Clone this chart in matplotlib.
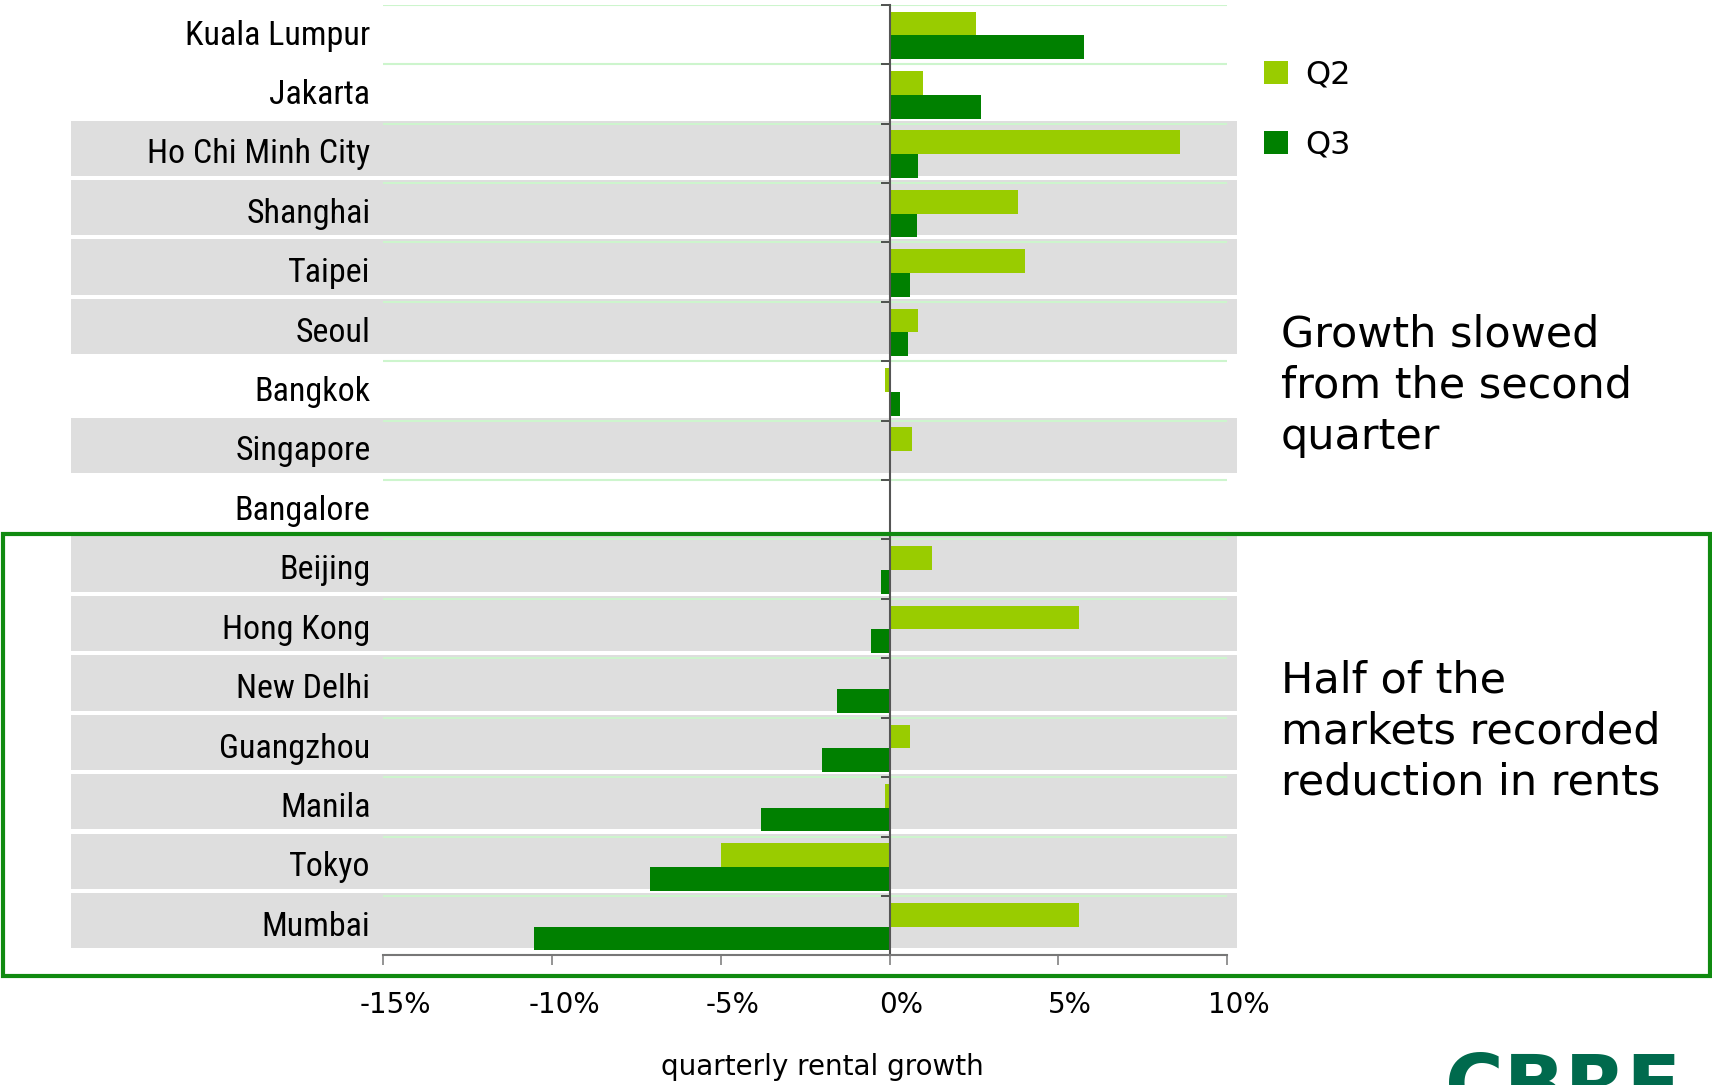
import matplotlib
matplotlib.use("Agg")
import matplotlib.pyplot as plt
from matplotlib.patches import Rectangle
from matplotlib.transforms import blended_transform_factory, ScaledTranslation
from matplotlib import font_manager
import numpy as np

# quarterly rental growth (%)
cities = ["Kuala Lumpur", "Jakarta", "Ho Chi Minh City", "Shanghai", "Taipei", "Seoul",
          "Bangkok", "Singapore", "Bangalore", "Beijing", "Hong Kong", "New Delhi",
          "Guangzhou", "Manila", "Tokyo", "Mumbai"]
q2 = [2.55, 1.0, 8.6, 3.8, 4.0, 0.85, -0.15, 0.65, 0.0, 1.25, 5.6, 0.0, 0.6, -0.15, -5.0, 5.6]
q3 = [5.75, 2.7, 0.85, 0.8, 0.6, 0.55, 0.3, 0.0, 0.0, -0.25, -0.55, -1.55, -2.0, -3.8, -7.1, -10.55]
shaded = [False, False, True, True, True, True, False, True, False,
          True, True, True, True, True, True, True]
xticks = [-15, -10, -5, 0, 5, 10]
xtick_labels = ["-15%", "-10%", "-5%", "0%", "5%", "10%"]

# the city names are set in a narrow face; use one if it is there
installed = {f.name for f in font_manager.fontManager.ttflist}
narrow = [n for n in ["Liberation Sans Narrow", "Roboto Condensed", "DejaVu Sans Condensed",
                      "Open Sans Condensed"] if n in installed]
if narrow:
    city_font, city_size = narrow[0], 24.5
else:
    city_font, city_size = "DejaVu Sans", 19

fig = plt.figure(figsize=(17.12, 10.85), dpi=100)
ax = fig.add_axes([0.2240, 0.1195, 0.4927, 0.8761])

y = np.arange(len(cities))
ax.barh(y - 0.185, q2, height=0.4, color="#99CC00", label="Q2", zorder=2)
ax.barh(y + 0.215, q3, height=0.4, color="#008000", label="Q3", zorder=2)
ax.set_xlim(-15, 10)
ax.set_ylim(len(cities) - 0.5, -0.5)

# grey row bands running behind the labels
row_tr = blended_transform_factory(ax.transAxes, ax.transData)
for i, s in enumerate(shaded):
    if s:
        ax.add_patch(Rectangle((-0.37, i - 0.55), 1.382, 0.93, transform=row_tr,
                               facecolor="#dedede", edgecolor="none",
                               clip_on=False, zorder=0.2))

ax.set_axisbelow(True)
ax.set_yticks(np.arange(-0.5, len(cities)), labels=[])
ax.yaxis.grid(True, color="#cdf5cd", linewidth=1.5)

for s in ["top", "right"]:
    ax.spines[s].set_visible(False)
ax.spines["left"].set_position(("data", 0))
ax.spines["left"].set_color("#555555")
ax.spines["left"].set_linewidth(1.5)
ax.spines["bottom"].set_color("#777777")
ax.spines["bottom"].set_linewidth(1.5)
ax.tick_params(axis="y", direction="out", length=6.5, width=1.3, color="#444444")
ax.tick_params(axis="x", direction="out", length=7, width=1.1, color="#777777",
               labelsize=20, pad=19)
ax.set_xticks(xticks, labels=xtick_labels)

off = ScaledTranslation(0.12, 0, fig.dpi_scale_trans)
for lab in ax.get_xticklabels():
    lab.set_transform(lab.get_transform() + off)

for i, c in enumerate(cities):
    ax.text(-0.0155, i + 0.17, c, transform=row_tr, ha="right", va="baseline",
            fontsize=city_size, family=city_font)

ax.set_xlabel("quarterly rental growth", fontsize=20)
ax.xaxis.set_label_coords(0.52, -0.1027)

fig.legend(loc="upper left", bbox_to_anchor=(0.7383, 0.945), frameon=False,
           fontsize=23, handlelength=0.75, handleheight=0.75, handletextpad=0.53,
           labelspacing=1.22, borderpad=0, borderaxespad=0)

fig.text(0.7483, 0.7106, "Growth slowed\nfrom the second\nquarter",
         fontsize=31, va="top", ha="left", linespacing=1.27)
fig.text(0.7483, 0.3923, "Half of the\nmarkets recorded\nreduction in rents",
         fontsize=31, va="top", ha="left", linespacing=1.27)

fig.add_artist(Rectangle((0.0018, 0.1005), 0.997, 0.4077, transform=fig.transFigure,
                         fill=False, edgecolor="#108a10", linewidth=3))

# logo runs off the bottom edge, as on the slide
fig.text(0.844, 0.0313, "CBRE", fontsize=57.6, weight="bold", color="#006A4D", va="top")

fig.savefig("out.png", dpi=100)
